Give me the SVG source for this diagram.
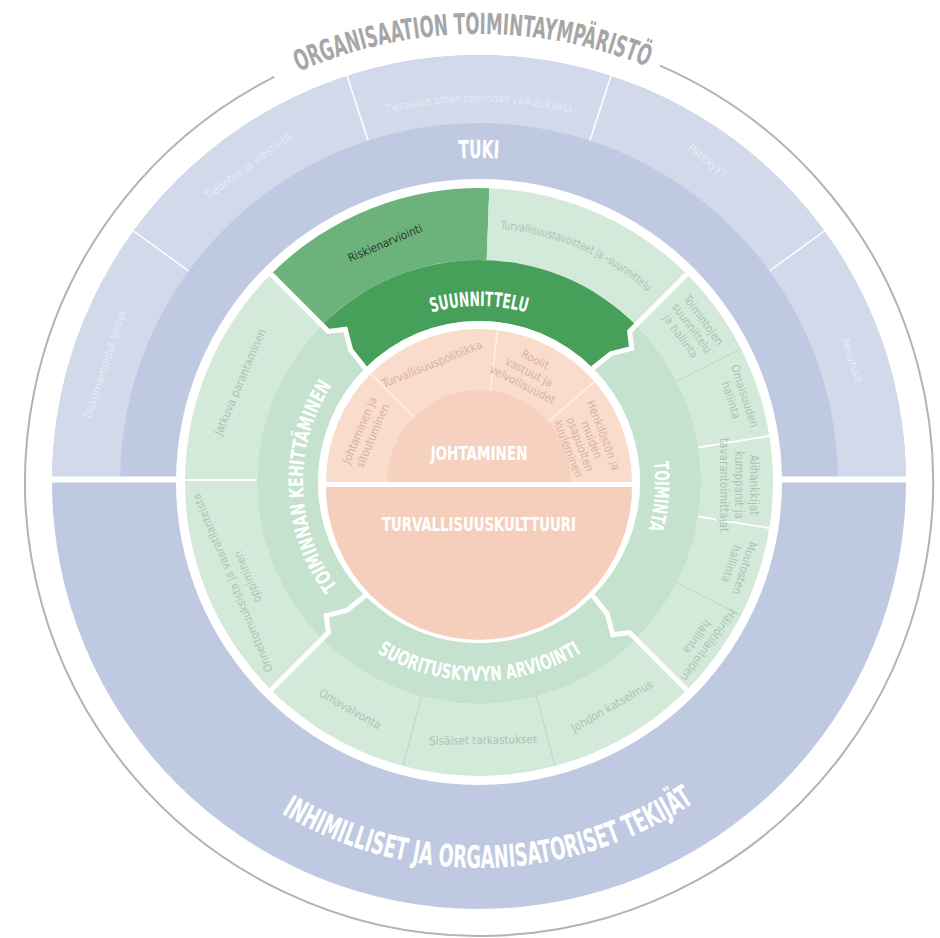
<svg xmlns="http://www.w3.org/2000/svg" width="940" height="938" viewBox="0 0 940 938">
<style>
text { font-family: 'Liberation Sans Narrow','DejaVu Sans Condensed','Liberation Sans',sans-serif; }
.h { font-weight: bold; fill: #ffffff; }
.t { font-weight: bold; fill: #a6a6a6; }
.s { font-size: 11.5px; dominant-baseline: central; text-anchor: middle; }
.sb { fill: #e6ebf5; }
.sg { fill: #aac5b1; }
.so { fill: #d8b2a0; }
.sep { fill: none; stroke: #ffffff; stroke-width: 5; stroke-linejoin: miter; }
.dv { stroke: #ffffff; stroke-width: 1.8; }
.dvf { stroke: #bfd9c6; stroke-width: 1.2; }
.dvb { stroke: #ffffff; stroke-width: 1.5; }
.dvo { stroke: #fdf1ea; stroke-width: 1.5; }
.gl { fill: #d3eadb; }
.gm { fill: #c4e2ce; }
</style>
<defs>
<path id="arcTitle" d="M 58 328.8 A 448 448 0 0 1 900 328.8"/>
<path id="arcTieto" d="M 146.4 290 A 384 384 0 0 1 811.6 290"/>
<path id="arcTuki" d="M 198.4 320 A 324 324 0 0 1 759.6 320"/>
<path id="arcInh" d="M 116.3 614 A 386 386 0 0 0 841.7 614"/>
<path id="arcSuun" d="M 326.6 394 A 176 176 0 0 1 631.4 394"/>
<path id="arcToim" d="M 567 329.6 A 176 176 0 0 1 567 634.4"/>
<path id="arcKeh" d="M 391 634.4 A 176 176 0 0 1 391 329.6"/>
<path id="arcSuor" d="M 306.7 581.5 A 199 199 0 0 0 651.3 581.5"/>
<path id="arcTurv" d="M 434.2 227.9 A 258 258 0 0 1 702.4 353"/>
</defs>
<rect x="0" y="0" width="940" height="938" fill="#ffffff"/>

<g id="organisaation-toimintaymparisto">
<path d="M 274.3 76.8 A 454 454 0 1 0 660 65.6" fill="none" stroke="#b3b3b3" stroke-width="2"/>
<text class="t" font-size="29" text-anchor="middle"><textPath href="#arcTitle" startOffset="49.4%" textLength="358" lengthAdjust="spacingAndGlyphs">ORGANISAATION TOIMINTAYMPÄRISTÖ</textPath></text>
</g>

<g id="inhimilliset-tekijat">
<circle cx="479" cy="482" r="427" fill="#bfcae2"/>
<text class="h" font-size="31" text-anchor="middle"><textPath href="#arcInh" startOffset="51.1%" textLength="436" lengthAdjust="spacingAndGlyphs">INHIMILLISET JA ORGANISATORISET TEKIJÄT</textPath></text>
</g>

<g id="tuki">
<path d="M 52 482 A 427 427 0 0 1 906 482 L 838 482 A 359 359 0 0 0 120 482 Z" fill="#d1d9ea"/>
<line class="dvb" x1="769.4" y1="271" x2="824.4" y2="231"/>
<line class="dvb" x1="589.9" y1="140.6" x2="610.9" y2="75.9"/>
<line class="dvb" x1="368.1" y1="140.6" x2="347.1" y2="75.9"/>
<line class="dvb" x1="188.6" y1="271" x2="133.6" y2="231"/>
<rect x="46" y="476.5" width="134" height="6" fill="#ffffff"/>
<rect x="778" y="476.5" width="134" height="6" fill="#ffffff"/>
<text class="h" font-size="25" text-anchor="middle"><textPath href="#arcTuki" startOffset="50%" textLength="40" lengthAdjust="spacingAndGlyphs">TUKI</textPath></text>
<text class="s sb" font-size="12"><textPath href="#arcTieto" startOffset="50%" textLength="188" lengthAdjust="spacingAndGlyphs">Tietoisuus oman toiminnan vaikutuksista</textPath></text>
<text class="s sb" font-size="12" transform="translate(248 166) rotate(-36)">Tiedotus ja viestintä</text>
<text class="s sb" font-size="12" transform="translate(708 160) rotate(36)">Pätevyys</text>
<text class="s sb" font-size="12" transform="translate(852 360) rotate(72)">Resurssit</text>
<text class="s sb" font-size="12" transform="translate(105 364) rotate(-72)">Dokumentoidut tiedot</text>
<circle cx="479" cy="482" r="303" fill="#ffffff"/>
</g>

<g id="suunnittelu">
<path d="M 271.1 274.1 A 294 294 0 0 1 489.3 188.2 L 486.7 260.1 A 222 222 0 0 0 322 325 Z" fill="#6bb37b"/>
<path class="gl" d="M 489.3 188.2 A 294 294 0 0 1 686.9 274.1 L 636 325 A 222 222 0 0 0 486.7 260.1 Z"/>
<path d="M 636 325 L 629.6 331.4 L 631.7 348.3 L 610.9 353.7 L 592.8 368.2 A 161 161 0 0 0 365.2 368.2 L 350.7 350.1 L 345.3 329.3 L 328.4 331.4 L 322 325 A 222 222 0 0 1 636 325 Z" fill="#46a05a"/>
<text class="h" font-size="20" text-anchor="middle"><textPath href="#arcSuun" startOffset="50%" textLength="96" lengthAdjust="spacingAndGlyphs">SUUNNITTELU</textPath></text>
<text class="s" fill="#2e3a30" transform="translate(385 243) rotate(-23)">Riskienarviointi</text>
<text class="s sg"><textPath href="#arcTurv" startOffset="47.4%" textLength="165" lengthAdjust="spacingAndGlyphs">Turvallisuustavoitteet ja -suunnittelu</textPath></text>
</g>

<g id="toiminta">
<path class="gl" d="M 686.9 274.1 A 294 294 0 0 1 686.9 689.9 L 636 639 A 222 222 0 0 0 636 325 Z"/>
<path class="gm" d="M 636 639 L 629.6 632.6 L 612.7 634.7 L 607.3 613.9 L 592.8 595.8 A 161 161 0 0 0 592.8 368.2 L 610.9 353.7 L 631.7 348.3 L 629.6 331.4 L 636 325 A 222 222 0 0 1 636 639 Z"/>
<line class="dvf" x1="676.8" y1="381.2" x2="741" y2="348.5"/>
<line class="dv" x1="698.3" y1="447.3" x2="769.4" y2="436"/>
<line class="dv" x1="698.3" y1="516.7" x2="769.4" y2="528"/>
<line class="dvf" x1="676.8" y1="582.8" x2="741" y2="615.5"/>
<text class="h" font-size="20" text-anchor="middle"><textPath href="#arcToim" startOffset="53.8%" textLength="68" lengthAdjust="spacingAndGlyphs">TOIMINTA</textPath></text>
<text class="s sg" transform="translate(692 328) rotate(54)"><tspan x="0" y="-14">Toimintojen</tspan><tspan x="0" y="0">suunnittelu</tspan><tspan x="0" y="14">ja hallinta</tspan></text>
<text class="s sg" transform="translate(738 398) rotate(72)"><tspan x="0" y="-7">Omaisuuden</tspan><tspan x="0" y="7">hallinta</tspan></text>
<text class="s sg" transform="translate(739 485) rotate(90)"><tspan x="0" y="-15">Alihankkijat</tspan><tspan x="0" y="0">kumppanit ja</tspan><tspan x="0" y="15">tavarantoimittajat</tspan></text>
<text class="s sg" transform="translate(738 566) rotate(108)"><tspan x="0" y="-7">Muutosten</tspan><tspan x="0" y="7">hallinta</tspan></text>
<text class="s sg" transform="translate(703 641) rotate(126)"><tspan x="0" y="-7">Häiriötilanteiden</tspan><tspan x="0" y="7">hallinta</tspan></text>
</g>

<g id="suorituskyvyn-arviointi">
<path class="gl" d="M 686.9 689.9 A 294 294 0 0 1 271.1 689.9 L 322 639 A 222 222 0 0 0 636 639 Z"/>
<path class="gm" d="M 322 639 L 328.4 632.6 L 326.3 615.7 L 347.1 610.3 L 365.2 595.8 A 161 161 0 0 0 592.8 595.8 L 607.3 613.9 L 612.7 634.7 L 629.6 632.6 L 636 639 A 222 222 0 0 1 322 639 Z"/>
<line class="dvf" x1="421.5" y1="696.4" x2="402.9" y2="766"/>
<line class="dvf" x1="536.5" y1="696.4" x2="555.1" y2="766"/>
<text class="h" font-size="20" text-anchor="middle"><textPath href="#arcSuor" startOffset="50%" textLength="214" lengthAdjust="spacingAndGlyphs">SUORITUSKYVYN ARVIOINTI</textPath></text>
<text class="s sg" transform="translate(350 709) rotate(30)">Omavalvonta</text>
<text class="s sg" transform="translate(483 740) rotate(-1)">Sisäiset tarkastukset</text>
<text class="s sg" transform="translate(612 706) rotate(-30)">Johdon katselmus</text>
</g>

<g id="toiminnan-kehittaminen">
<path class="gl" d="M 271.1 689.9 A 294 294 0 0 1 271.1 274.1 L 322 325 A 222 222 0 0 0 322 639 Z"/>
<path class="gm" d="M 322 325 L 328.4 331.4 L 345.3 329.3 L 350.7 350.1 L 365.2 368.2 A 161 161 0 0 0 365.2 595.8 L 347.1 610.3 L 326.3 615.7 L 328.4 632.6 L 322 639 A 222 222 0 0 1 322 325 Z"/>
<line class="dv" x1="185" y1="480" x2="257" y2="480"/>
<text class="h" font-size="20" text-anchor="middle"><textPath href="#arcKeh" startOffset="48.7%" textLength="214" lengthAdjust="spacingAndGlyphs">TOIMINNAN KEHITTÄMINEN</textPath></text>
<text class="s sg" transform="translate(240 382) rotate(-67)">Jatkuva parantaminen</text>
<text class="s sg" transform="translate(240 580) rotate(-112.5)"><tspan x="0" y="-8">Onnettomuuksista ja vaaratilanteista</tspan><tspan x="0" y="8">oppiminen</tspan></text>
</g>

<g id="erottimet">
<polyline class="sep" points="686.9,274.1 636,325 629.6,331.4 631.7,348.3 610.9,353.7 592.8,368.2"/>
<polyline class="sep" points="686.9,689.9 636,639 629.6,632.6 612.7,634.7 607.3,613.9 592.8,595.8"/>
<polyline class="sep" points="271.1,689.9 322,639 328.4,632.6 326.3,615.7 347.1,610.3 365.2,595.8"/>
<polyline class="sep" points="271.1,274.1 322,325 328.4,331.4 345.3,329.3 350.7,350.1 365.2,368.2"/>
<circle cx="479" cy="482" r="161" fill="#ffffff"/>
</g>

<g id="johtaminen">
<path d="M 326 482 A 153 153 0 0 1 632 482 Z" fill="#fadccc"/>
<path d="M 387 482 A 92 92 0 0 1 571 482 Z" fill="#f6d1bf"/>
<line class="dvo" x1="413.9" y1="416.9" x2="370.8" y2="373.8"/>
<line class="dvo" x1="490.2" y1="390.7" x2="497.6" y2="330.1"/>
<line class="dvo" x1="548.4" y1="421.6" x2="594.5" y2="381.6"/>
<text class="h" font-size="20" x="479" y="460" text-anchor="middle" textLength="97" lengthAdjust="spacingAndGlyphs">JOHTAMINEN</text>
<text class="s so" transform="translate(366 433) rotate(-67)"><tspan x="0" y="-7">Johtaminen ja</tspan><tspan x="0" y="7">sitoutuminen</tspan></text>
<text class="s so" transform="translate(432 364) rotate(-22)">Turvallisuuspolitiikka</text>
<text class="s so" transform="translate(529 372) rotate(27)"><tspan x="0" y="-14">Roolit</tspan><tspan x="0" y="0">vastuut ja</tspan><tspan x="0" y="14">velvollisuudet</tspan></text>
<text class="s so" font-size="11" transform="translate(586 442) rotate(69)"><tspan x="0" y="-18.75">Henkilöstön ja</tspan><tspan x="0" y="-6.25">muiden</tspan><tspan x="0" y="6.25">osapuolten</tspan><tspan x="0" y="18.75">kuuleminen</tspan></text>
</g>

<g id="turvallisuuskulttuuri">
<path d="M 326 487 A 153 153 0 0 0 632 487 Z" fill="#f5cfbc"/>
<text class="h" font-size="20" x="479" y="531" text-anchor="middle" textLength="194" lengthAdjust="spacingAndGlyphs">TURVALLISUUSKULTTUURI</text>
</g>
</svg>
